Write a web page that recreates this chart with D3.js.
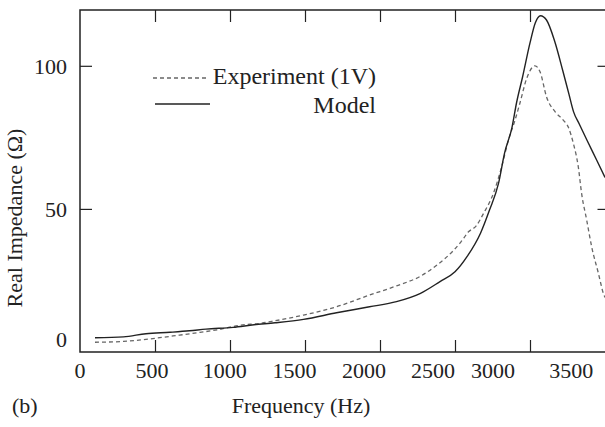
<!DOCTYPE html>
<html>
<head>
<meta charset="utf-8">
<script src="https://cdn.jsdelivr.net/npm/d3@7"></script>
<style>
  body { margin: 0; background: #fff; }
  text { font-family: "Liberation Serif", "Times New Roman", serif; fill: #222; }
</style>
</head>
<body>
<div id="chart"></div>
<script>
// measured real impedance, 1 V drive (dashed)
const expFreq = [100, 290, 470, 620, 780, 930, 1070, 1200, 1300, 1490, 1710, 1930, 2110, 2270, 2380,
  2490, 2540, 2590, 2640, 2690, 2756, 2811, 2856, 2900, 2933, 2978, 3033, 3067, 3111, 3167, 3222,
  3256, 3289, 3322, 3344, 3378, 3411, 3456, 3489, 3500];
const expZ = [3.4, 3.7, 4.6, 5.6, 6.7, 7.9, 9.4, 10.0, 10.9, 12.9, 15.8, 19.9, 23.1, 26.5, 30.4,
  35.5, 38.5, 42.0, 44.0, 48.4, 55.4, 64.7, 74.0, 81.0, 87.0, 95.6, 100.0, 97.9, 89.0, 84.0, 81.0,
  78.5, 72.9, 64.7, 55.4, 46.1, 36.8, 27.5, 20.5, 19.0];

// model (solid)
const modelFreq = [100, 290, 440, 600, 730, 840, 1020, 1160, 1300, 1490, 1710, 1930, 2110, 2270, 2400,
  2500, 2580, 2670, 2730, 2790, 2830, 2880, 2910, 2950, 3000, 3035, 3070, 3110, 3165, 3220, 3260,
  3290, 3330, 3380, 3445, 3500];
const modelZ = [5.0, 5.3, 6.4, 6.9, 7.4, 8.0, 8.6, 9.5, 10.2, 11.4, 13.7, 15.8, 17.6, 20.5, 24.6,
  28.0, 33.3, 41.5, 49.6, 58.9, 69.4, 78.5, 87.0, 96.0, 108.0, 115.0, 117.5, 116.0, 108.5, 98.0, 90.0,
  84.0, 79.5, 74.0, 67.0, 61.0];

const xTickValues = [500, 1000, 1500, 2000, 2500, 3000];
const xTickLabels = ["0", "500", "1000", "1500", "2000", "2500", "3000", "3500"];
// frequency under which each printed label sits in the original figure
const xLabelAt = [0, 480, 965, 1430, 1893, 2353, 2753, 3275];
const yTickValues = [50, 100];
const yTickLabels = [0, 50, 100];

const legendNames = ["Experiment (1V)", "Model"];

const W = 605, H = 427;
const margin = {top: 10, left: 80, bottom: 75};

const svg = d3.select("#chart").append("svg")
  .attr("width", W).attr("height", H);

const x = d3.scaleLinear().domain([0, 3500]).range([margin.left, 605]);
const y = d3.scaleLinear().domain([0, 119.5]).range([H - margin.bottom, margin.top]);
const right = x(3530);

// frame
svg.append("path")
  .attr("d", `M${right},${y(119.5)}H${x(0)}V${y(0)}H${right}`)
  .attr("fill", "none").attr("stroke", "#222").attr("stroke-width", 1.5);

const tickStyle = g => {
  g.select(".domain").remove();
  g.selectAll("line").attr("stroke", "#222").attr("stroke-width", 1.2);
};

svg.append("g").attr("transform", `translate(0,${y(0)})`)
  .call(d3.axisBottom(x).tickValues(xTickValues).tickSize(-12).tickFormat(""))
  .call(tickStyle);
svg.append("g").attr("transform", `translate(0,${y(119.5)})`)
  .call(d3.axisTop(x).tickValues(xTickValues).tickSize(-12).tickFormat(""))
  .call(tickStyle);
svg.append("g").attr("transform", `translate(${x(0)},0)`)
  .call(d3.axisLeft(y).tickValues(yTickValues).tickSize(-12).tickFormat(""))
  .call(tickStyle);
svg.append("g").attr("transform", `translate(${right},0)`)
  .call(d3.axisRight(y).tickValues(yTickValues).tickSize(-12).tickFormat(""))
  .call(tickStyle);

// tick labels
svg.append("g").selectAll("text").data(xTickLabels).join("text")
  .attr("x", (d, i) => x(xLabelAt[i]))
  .attr("y", y(0) + 26)
  .attr("text-anchor", "middle")
  .attr("font-size", 22)
  .text(d => d);

svg.append("g").selectAll("text").data(yTickLabels).join("text")
  .attr("x", x(0) - 13)
  .attr("y", d => y(d) + (d === 0 ? -5 : 8))
  .attr("text-anchor", "end")
  .attr("font-size", 22)
  .text(d => d);

// axis titles
svg.append("text")
  .attr("x", 301).attr("y", 413)
  .attr("text-anchor", "middle").attr("font-size", 22)
  .text("Frequency (Hz)");
svg.append("text")
  .attr("x", 12).attr("y", 413)
  .attr("font-size", 22)
  .text("(b)");
svg.append("text")
  .attr("transform", `translate(22,${218}) rotate(-90)`)
  .attr("text-anchor", "middle").attr("font-size", 22)
  .text("Real Impedance (Ω)");

// curves
const line = d3.line().x(d => x(d[0])).y(d => y(d[1])).curve(d3.curveMonotoneX);

svg.append("path")
  .datum(expFreq.map((f, i) => [f, expZ[i]]))
  .attr("d", line)
  .attr("fill", "none").attr("stroke", "#666").attr("stroke-width", 1.3)
  .attr("stroke-dasharray", "4,3");

svg.append("path")
  .datum(modelFreq.map((f, i) => [f, modelZ[i]]))
  .attr("d", line)
  .attr("fill", "none").attr("stroke", "#222").attr("stroke-width", 1.4);

// legend
const legend = svg.append("g");
legend.append("line")
  .attr("x1", 153).attr("x2", 209).attr("y1", 78).attr("y2", 78)
  .attr("stroke", "#666").attr("stroke-width", 1.3).attr("stroke-dasharray", "4,3");
legend.append("line")
  .attr("x1", 155).attr("x2", 210).attr("y1", 104).attr("y2", 104)
  .attr("stroke", "#222").attr("stroke-width", 1.4);
legend.selectAll("text").data(legendNames).join("text")
  .attr("x", 376)
  .attr("y", (d, i) => 84 + i * 29)
  .attr("text-anchor", "end")
  .attr("font-size", 24)
  .text(d => d);
</script>
</body>
</html>
